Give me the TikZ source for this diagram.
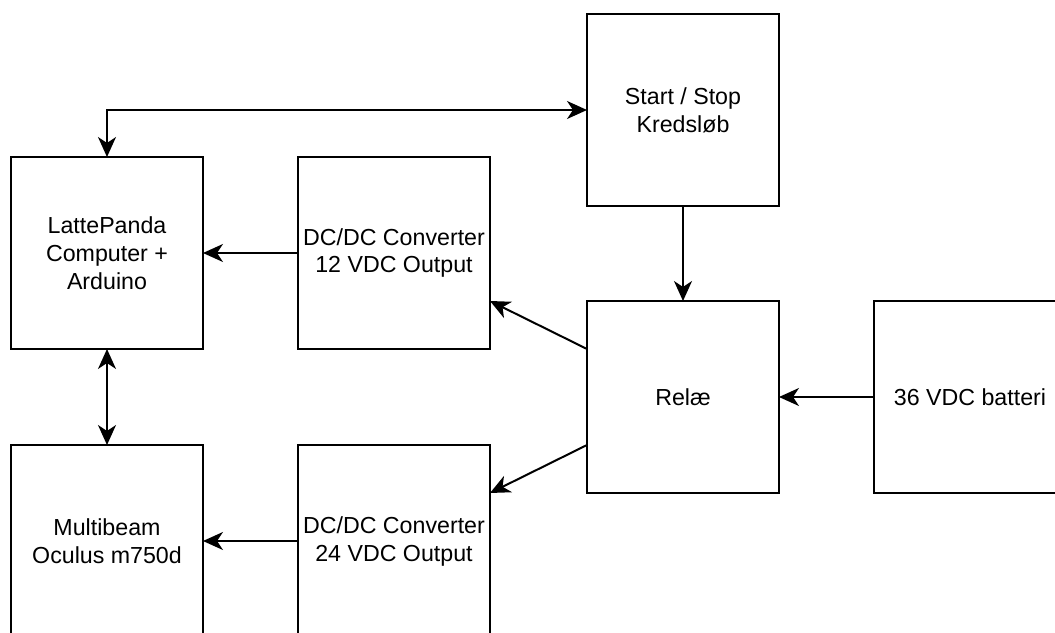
\documentclass[tikz,border=0pt]{standalone}
\usepackage{fontspec}
\setmainfont{Liberation Sans}
\usetikzlibrary{arrows.meta,positioning,calc}

\begin{document}
\begin{tikzpicture}[
  font=\fontsize{11.6pt}{14pt}\selectfont,
  block/.style={draw,line width=1pt,minimum width=96pt,minimum height=96pt,inner sep=1pt,outer sep=0pt,align=center},
  link/.style={line width=1pt},
  >={Stealth[length=10pt,width=9pt,inset=3pt]}
]
\useasboundingbox (-53.5pt,126.5pt) rectangle (474pt,-189.5pt);
% left column
\node[block] (panda) at (0,0) {LattePanda\\Computer +\\Arduino};
\node[block,below=48pt of panda] (beam) {Multibeam\\Oculus m750d};
% the converters
\node[block,right=47.5pt of panda] (dc12) {DC/DC Converter\\12 VDC Output};
\node[block,right=47.5pt of beam] (dc24) {DC/DC Converter\\24 VDC Output};
% relay, switch and battery
\node[block,right=48.5pt of dc12,yshift=-72pt] (relae) {Relæ};
\node[block,above=47.5pt of relae] (start) {Start / Stop\\Kredsløb};
\node[block,right=47.5pt of relae] (batt) {36 VDC batteri};
% connections
\draw[link,<->] (panda.north) |- (start.west);
\draw[link,->] (dc12.west) -- (panda.east);
\draw[link,->] (dc24.west) -- (beam.east);
\draw[link,<->] (panda.south) -- (beam.north);
\draw[link,->] (start.south) -- (relae.north);
\draw[link,->] (batt.west) -- (relae.east);
\draw[link,->] ($(relae.north west)!0.25!(relae.south west)$) -- ($(dc12.north east)!0.75!(dc12.south east)$);
\draw[link,->] ($(relae.north west)!0.75!(relae.south west)$) -- ($(dc24.north east)!0.25!(dc24.south east)$);
\end{tikzpicture}
\end{document}
